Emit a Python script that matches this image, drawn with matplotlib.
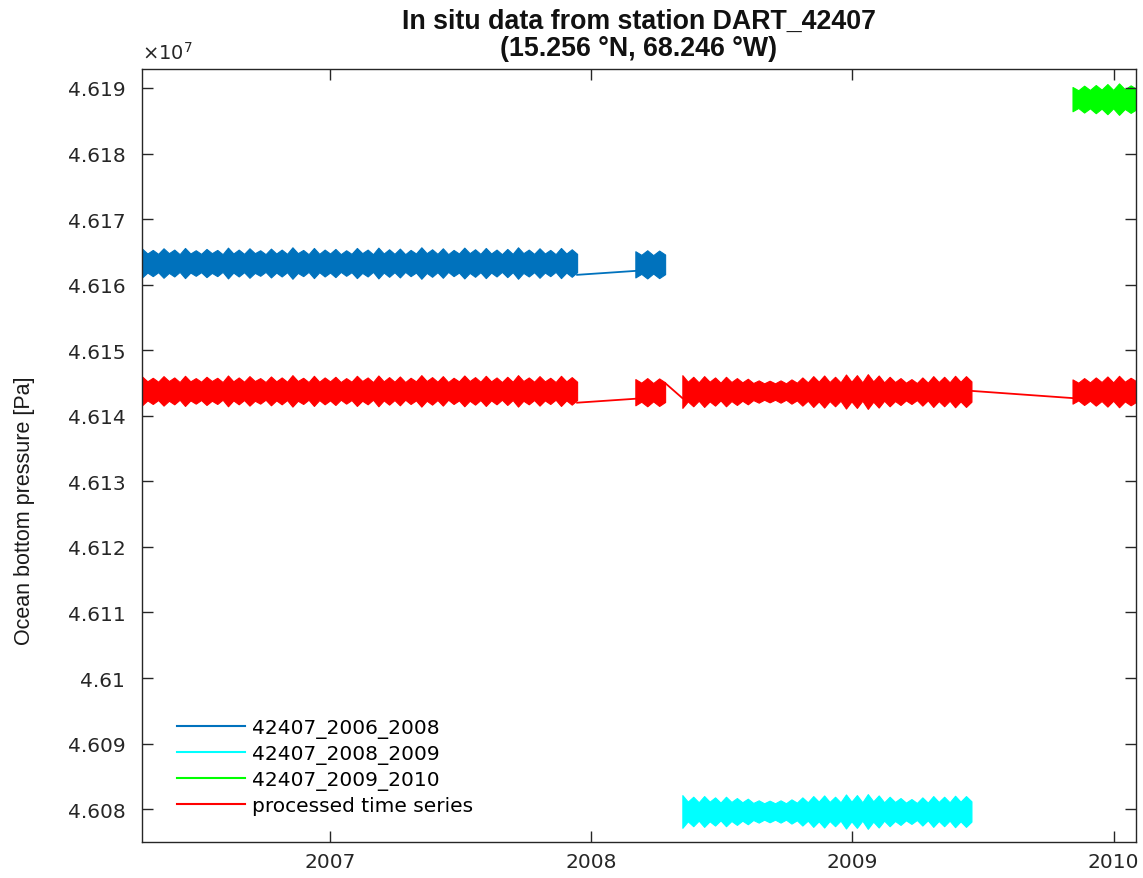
import numpy as np
import matplotlib
matplotlib.use('Agg')
import matplotlib.pyplot as plt
from matplotlib.lines import Line2D
from matplotlib.ticker import FuncFormatter

# legend names / colours (MATLAB-ish)
names = ['42407_2006_2008', '42407_2008_2009', '42407_2009_2010', 'processed time series']
colors = ['#0072BD', '#00FFFF', '#00FF00', '#FF0000']

# time windows of the recorded pieces (decimal year)
t_2006 = [2006.28, 2007.946]
t_2008a = [2008.169, 2008.283]
t_2008b = [2008.349, 2009.456]
t_2009 = [2009.843, 2010.088]

amp_2006 = [2200, 1450, 2000, 1400, 2250, 1500, 2050, 1350, 2300, 1450,
            1950, 1400, 2150, 1500, 2000, 1350, 2350, 1450, 2050, 1400,
            2250, 1500, 1950, 1350, 2200, 1450, 2050, 1400, 2400, 1500,
            2000, 1350, 2300, 1400, 2050, 1450, 2150, 1350, 1950, 1400,
            2300, 1500, 2050, 1350, 2350, 1450, 2100, 1400, 2200, 1350,
            2000, 1450, 2400, 1500, 2100, 1400, 2250, 1350, 2000, 1450,
            2350, 1500, 2100, 1400, 2300, 1450, 2050, 1350, 2150, 1400,
            2400, 1500, 2050, 1400, 2250, 1450, 2000, 1350, 2300, 1450,
            2100, 1400]
amp_2008a = [2000, 1450, 2150, 1400, 2100, 1500]
amp_2008b = [2500, 1500, 2250, 1400, 2350, 1500, 2150, 1350, 2250, 1450,
             2050, 1400, 1950, 1300, 1700, 1250, 1650, 1250, 1700, 1250,
             1850, 1350, 2150, 1400, 2350, 1500, 2450, 1450, 2250, 1400,
             2600, 1500, 2500, 1400, 2650, 1550, 2450, 1400, 2250, 1450,
             2050, 1350, 1900, 1300, 2150, 1350, 2350, 1450, 2250, 1400,
             2400, 1500, 2350, 1550]
amp_2009 = [1850, 1350, 2050, 1400, 2150, 1450, 2300, 1400, 2400, 1500, 2100, 1550]

# band centre levels [Pa]: raw record and processed series
raw_level = [46163300, 46163100, 46079650, 46188300]
proc_level = [46143800, 46143600, 46143700, 46143700]

# straight lines across the data gaps
blue_gap_t = [2007.946, 2008.169]
blue_gap_p = [46161500, 46162100]
red_gap_t = [2007.946, 2008.169, 2008.283, 2008.349, 2009.456, 2009.843]
red_gap_p = [46142000, 46142600, 46145000, 46142700, 46143800, 46142700]

pieces = [(t_2006, amp_2006, 0), (t_2008a, amp_2008a, 0),
          (t_2008b, amp_2008b, 1), (t_2009, amp_2009, 2)]


def band(ax, tw, amp, lvl, c):
    amp = np.asarray(amp, dtype=float)
    t = np.linspace(tw[0], tw[1], len(amp))
    ax.fill_between(t, lvl - amp, lvl + amp, color=c, lw=0.8)


fig = plt.figure(figsize=(11.43, 8.79), dpi=100)
ax = fig.add_axes([0.1242, 0.041, 0.8701, 0.8794])

# raw pieces
for i, (tw, amp, s) in enumerate(pieces):
    band(ax, tw, amp, raw_level[i], colors[s])
ax.plot(blue_gap_t, blue_gap_p, color=colors[0], lw=1.3)

# processed series on top
for i, (tw, amp, s) in enumerate(pieces):
    band(ax, tw, amp, proc_level[i], colors[3])
for k in range(0, len(red_gap_t), 2):
    ax.plot(red_gap_t[k:k + 2], red_gap_p[k:k + 2], color=colors[3], lw=1.3)

ax.set_xlim(2006.2797, 2010.088)
ax.set_ylim(46075000, 46192900)
ax.set_xticks([2007, 2008, 2009, 2010])
ax.set_xticklabels(['2007', '2008', '2009', '2010'])
ax.set_yticks(np.arange(46080000, 46190001, 10000))
ax.yaxis.set_major_formatter(FuncFormatter(lambda v, p: '%g' % (v / 1e7)))

ax.tick_params(direction='in', length=8, width=1, top=True, right=True,
               labelsize=14.5, colors='#262626')
ax.tick_params(axis='y', pad=12)
ax.tick_params(axis='x', pad=7)
for sp in ax.spines.values():
    sp.set_color('#262626')
    sp.set_linewidth(1.0)

ax.set_ylabel('Ocean bottom pressure [Pa]', family='Liberation Sans', fontsize=15.5,
              color='#1a1a1a')
ax.yaxis.set_label_coords(-0.108, 0.43)
ax.text(0.0, 1.008, r'$\times10^{7}$', transform=ax.transAxes, fontsize=14,
        color='#262626', ha='left', va='bottom')
fig.text(0.559, 0.99, 'In situ data from station DART_42407\n(15.256 °N, 68.246 °W)',
         family='Liberation Sans', fontweight='bold', fontsize=19.3, ha='center',
         va='top', linespacing=1.08, color='#111111')

handles = [Line2D([], [], color=c, lw=1.5) for c in colors]
ax.legend(handles, names, loc='lower left', bbox_to_anchor=(0.035, 0.035),
          frameon=False, fontsize=14.5, handlelength=3.4, handletextpad=0.35,
          labelspacing=0.3, borderpad=0, borderaxespad=0)

fig.savefig('out.png', dpi=100)
